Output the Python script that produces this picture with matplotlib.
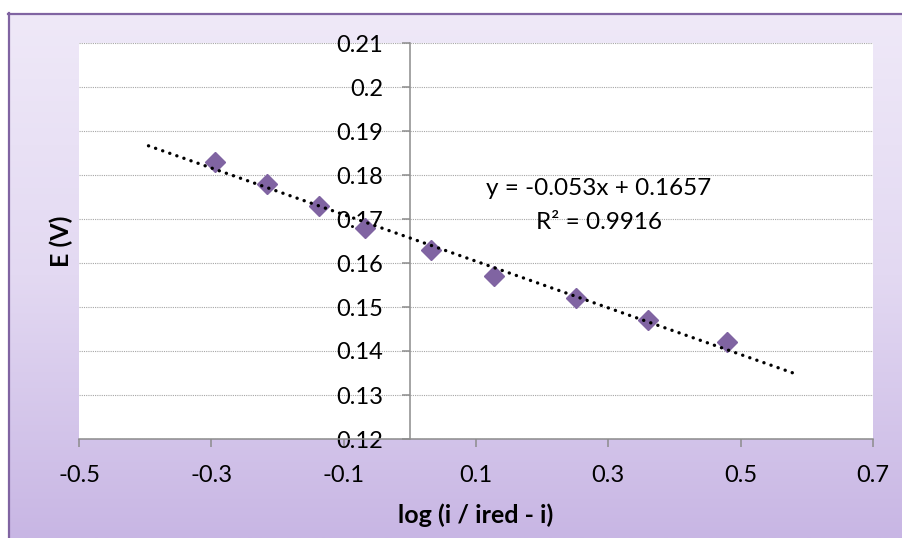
import numpy as np
import matplotlib.pyplot as plt
from matplotlib.lines import Line2D
from matplotlib.colors import LinearSegmentedColormap

# Measured potentials vs. log current ratio
log_ratio = [-0.295, -0.216, -0.137, -0.068, 0.032, 0.127, 0.251, 0.360, 0.479]
potential = [0.183, 0.178, 0.173, 0.168, 0.163, 0.157, 0.152, 0.147, 0.142]

# Linear trendline as reported on the chart
slope = -0.053
intercept = 0.1657
r_squared = 0.9916
forecast = 0.1  # trendline extension beyond the data, both directions

x_ticks = [-0.5, -0.3, -0.1, 0.1, 0.3, 0.5, 0.7]
x_tick_labels = ["-0.5", "-0.3", "-0.1", "0.1", "0.3", "0.5", "0.7"]
y_ticks = [0.12, 0.13, 0.14, 0.15, 0.16, 0.17, 0.18, 0.19, 0.20, 0.21]
y_tick_labels = ["0.12", "0.13", "0.14", "0.15", "0.16", "0.17", "0.18", "0.19", "0.2", "0.21"]

plt.rcParams["font.family"] = ["Lato", "DejaVu Sans"]

W, H = 902, 538
fig = plt.figure(figsize=(W / 100, H / 100), dpi=100)
fig.patch.set_facecolor("white")

# Chart area with vertical lavender gradient
chart_left, chart_top = 8, 13
bg = fig.add_axes([chart_left / W, 0, 1 - chart_left / W, (H - chart_top) / H])
cmap = LinearSegmentedColormap.from_list("lav", ["#EFE9F8", "#E3D9F2", "#C8B6E4"])
grad = np.linspace(0, 1, 256).reshape(-1, 1)
bg.imshow(grad, aspect="auto", cmap=cmap, extent=[0, 1, 0, 1], origin="upper")
bg.set_xlim(0, 1)
bg.set_ylim(0, 1)
bg.axis("off")

# Chart border (left and top edges visible)
border = "#8064A2"
fig.add_artist(Line2D([(chart_left + 0.5) / W] * 2, [0, 1 - chart_top / H],
                      color=border, lw=1.6, transform=fig.transFigure))
fig.add_artist(Line2D([(chart_left) / W, 1], [1 - (chart_top + 0.5) / H] * 2,
                      color=border, lw=1.6, transform=fig.transFigure))

# Plot area
pl, pr, pt, pb = 79, 873, 43, 439
ax = fig.add_axes([pl / W, 1 - pb / H, (pr - pl) / W, (pb - pt) / H])
ax.set_facecolor("white")
ax.set_xlim(-0.5, 0.7)
ax.set_ylim(0.12, 0.21)

ax.yaxis.grid(True, linestyle=(0, (1, 1)), color="#A6A6A6", lw=0.8)
ax.set_axisbelow(True)

for s in ("top", "right"):
    ax.spines[s].set_visible(False)
ax.spines["left"].set_position(("data", 0))
ax.spines["left"].set_color("#8C8C8C")
ax.spines["left"].set_linewidth(1.1)
ax.spines["bottom"].set_color("#8C8C8C")
ax.spines["bottom"].set_linewidth(1.1)

ax.set_xticks(x_ticks)
ax.set_xticklabels(x_tick_labels)
ax.set_yticks(y_ticks)
ax.set_yticklabels(y_tick_labels)
ax.tick_params(axis="x", direction="out", length=6, width=1.1, color="#8C8C8C",
               labelsize=17, pad=13, labelcolor="black")
ax.tick_params(axis="y", direction="out", length=6, width=1.1, color="#8C8C8C",
               labelsize=17, pad=13, labelcolor="black")

# Data points
ax.plot(log_ratio, potential, linestyle="none", marker="D", markersize=10.5,
        color="#8064A2", markeredgecolor="#8064A2", zorder=3, clip_on=False)

# Trendline
x_fit = np.array([min(log_ratio) - forecast, max(log_ratio) + forecast])
y_fit = slope * x_fit + intercept
ax.plot(x_fit, y_fit, color="black", lw=2.4, linestyle=(0, (0.05, 2.2)),
        dash_capstyle="round", zorder=4)

ax.text(0.286, 0.1770, f"y = {slope}x + {intercept}", fontsize=17.5,
        ha="center", va="center", zorder=5)
ax.text(0.286, 0.1693, f"R² = {r_squared}", fontsize=17.5,
        ha="center", va="center", zorder=5)

# Axis titles
fig.text((pl + pr) / 2 / W, 1 - 515 / H, "log (i / ired - i)", fontsize=18,
         fontweight="bold", ha="center", va="center")
fig.text(61 / W, 1 - (pt + pb) / 2 / H, "E (V)", fontsize=18, fontweight="bold",
         rotation=90, ha="center", va="center")

fig.savefig("out.png", dpi=100)
